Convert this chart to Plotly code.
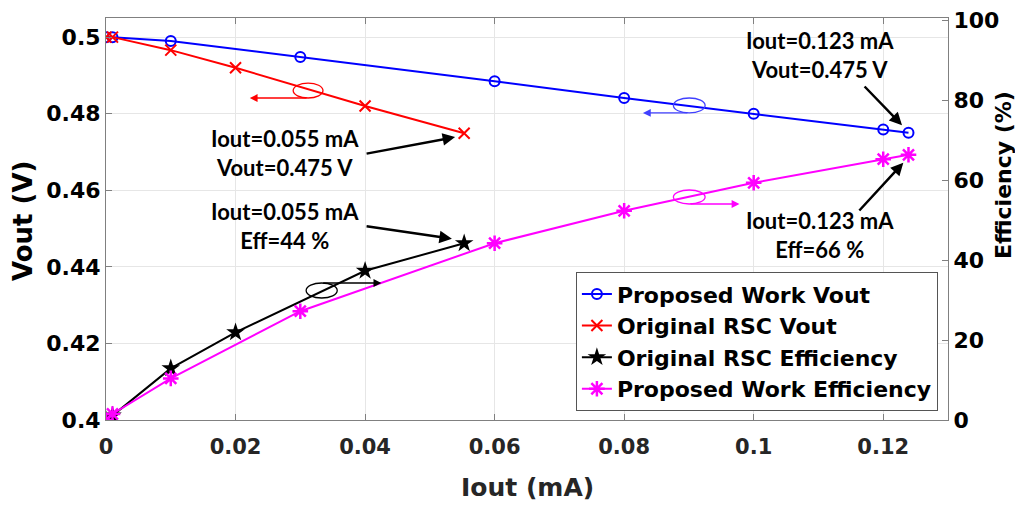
import plotly.graph_objects as go

# ---- data ----
iout_prop = [0, 0.001, 0.01, 0.03, 0.06, 0.08, 0.10, 0.12, 0.1239]
vout_prop = [0.500, 0.500, 0.499, 0.4948, 0.4885, 0.4841, 0.4800, 0.4759, 0.4750]
eff_prop = [0.0, 1.5, 10.4, 27.2, 44.2, 52.3, 59.3, 65.2, 66.3]

iout_orig = [0, 0.001, 0.01, 0.02, 0.04, 0.0553]
vout_orig = [0.500, 0.500, 0.4966, 0.4920, 0.4820, 0.4749]
eff_orig = [0.0, 1.1, 12.9, 21.9, 37.3, 44.2]

names = ["Proposed Work Vout", "Original RSC Vout",
         "Original RSC Efficiency", "Proposed Work Efficiency"]

x_ticks = [0, 0.02, 0.04, 0.06, 0.08, 0.1, 0.12]
x_tick_text = ["0", "0.02", "0.04", "0.06", "0.08", "0.1", "0.12"]
y_ticks = [0.40, 0.42, 0.44, 0.46, 0.48, 0.50]
y_tick_text = ["0.4", "0.42", "0.44", "0.46", "0.48", "0.5"]
y2_ticks = [0, 20, 40, 60, 80, 100]

TXT = "Lato"
TICK = "DejaVu Sans"

OFF = 8  # page body margin
W, H = 1023 - OFF, 507 - OFF
ML, MR, MT, MB = 106 - OFF, 75, 18 - OFF, 87

fig = go.Figure()
fig.add_trace(go.Scatter(x=iout_prop, y=vout_prop, name=names[0], mode="lines+markers",
                         line=dict(color="#0000ff", width=2),
                         marker=dict(symbol="circle-open", size=10, color="#0000ff",
                                     line=dict(width=2))))
fig.add_trace(go.Scatter(x=iout_orig, y=vout_orig, name=names[1], mode="lines+markers",
                         line=dict(color="#ff0000", width=2),
                         marker=dict(symbol="x-thin-open", size=11, color="#ff0000",
                                     line=dict(width=2, color="#ff0000"))))
fig.add_trace(go.Scatter(x=iout_orig, y=eff_orig, name=names[2], mode="lines+markers",
                         yaxis="y2",
                         line=dict(color="#000000", width=2),
                         marker=dict(symbol="star", size=14, color="#000000")))
fig.add_trace(go.Scatter(x=iout_prop, y=eff_prop, name=names[3], mode="lines+markers",
                         yaxis="y2",
                         line=dict(color="#ff00ff", width=2),
                         marker=dict(symbol="asterisk-open", size=13, color="#ff00ff",
                                     line=dict(width=2.5, color="#ff00ff"))))

annotations = []

def txt(x, y, t, yref="y"):
    annotations.append(dict(x=x, y=y, xref="x", yref=yref, text=t, showarrow=False,
                            font=dict(family=TXT, size=22, color="black", weight="bold"),
                            align="center"))

txt(0.1103, 0.4953, "Iout=0.123 mA<br>Vout=0.475 V")
txt(0.0276, 0.4697, "Iout=0.055 mA<br>Vout=0.475 V")
txt(0.0276, 48.5, "Iout=0.055 mA<br>Eff=44 %", yref="y2")
txt(0.1103, 46.2, "Iout=0.123 mA<br>Eff=66 %", yref="y2")

def arrow(x, y, ax, ay, color="black", yref="y", width=2.5, head=2, size=1.0):
    annotations.append(dict(x=x, y=y, ax=ax, ay=ay, xref="x", yref=yref,
                            axref="x", ayref=yref, text="", showarrow=True,
                            arrowhead=head, arrowsize=size, arrowwidth=width,
                            arrowcolor=color))

arrow(0.1229, 0.4770, 0.1169, 0.4875)
arrow(0.0539, 0.4739, 0.0400, 0.4695)
arrow(0.0534, 45.3, 0.0400, 48.5, yref="y2")
arrow(0.1231, 64.3, 0.1161, 52.0, yref="y2")
arrow(0.0222, 0.4841, 0.0312, 0.4841, color="#ff0000", width=1.3, size=1.2)
arrow(0.0829, 0.4802, 0.0900, 0.4802, color="#4040ff", width=1.3, size=1.2)
arrow(0.0978, 54.0, 0.0900, 54.0, color="#ff00ff", yref="y2", width=1.3, size=1.2)
arrow(0.0425, 34.25, 0.0333, 34.25, color="#000000", yref="y2", width=1.3, size=1.2)

# axis titles (placed as paper annotations; coordinates are screen pixels)
pw, ph = W - ML - MR, H - MT - MB
def px2paper(px, py):
    return (px - OFF - ML) / pw, (H - MB - (py - OFF)) / ph

tx, ty = px2paper(23, 221)
annotations.append(dict(x=tx, y=ty, xref="paper", yref="paper", text="Vout (V)",
                        showarrow=False, textangle=-90, xanchor="center", yanchor="middle",
                        font=dict(family=TICK, size=26, color="black", weight="bold")))
tx, ty = px2paper(1003, 175)
annotations.append(dict(x=tx, y=ty, xref="paper", yref="paper", text="Efficiency (%)",
                        showarrow=False, textangle=-90, xanchor="center", yanchor="middle",
                        font=dict(family=TICK, size=22, color="black", weight="bold")))
tx, ty = px2paper(527, 487)
annotations.append(dict(x=tx, y=ty, xref="paper", yref="paper", text="Iout (mA)",
                        showarrow=False, xanchor="center", yanchor="middle",
                        font=dict(family=TICK, size=25, color="#262626", weight="bold")))

shapes = [
    dict(type="circle", xref="x", yref="y", x0=0.0289, x1=0.0335, y0=0.4841, y1=0.4880,
         line=dict(color="#ff0000", width=1.3)),
    dict(type="circle", xref="x", yref="y", x0=0.0876, x1=0.0925, y0=0.4802, y1=0.4841,
         line=dict(color="#4040ff", width=1.3)),
    dict(type="circle", xref="x", yref="y2", x0=0.0876, x1=0.0925, y0=54.0, y1=57.5,
         line=dict(color="#ff00ff", width=1.3)),
    dict(type="circle", xref="x", yref="y2", x0=0.0309, x1=0.0357, y0=30.5, y1=34.25,
         line=dict(color="#000000", width=1.3)),
]

fig.update_layout(
    width=W, height=H,
    margin=dict(l=ML, r=MR, t=MT, b=MB, autoexpand=False),
    paper_bgcolor="white", plot_bgcolor="white",
    showlegend=True,
    legend=dict(x=0.988, y=0.022, xanchor="right", yanchor="bottom",
                bgcolor="white", bordercolor="#555555", borderwidth=1,
                font=dict(family=TICK, size=22, color="black", weight="bold"),
                tracegroupgap=0, itemwidth=30),
    xaxis=dict(range=[0, 0.13], tickvals=x_ticks, ticktext=x_tick_text, automargin=False,
               showgrid=True, gridcolor="#e6e6e6", gridwidth=1, zeroline=False,
               showline=True, linecolor="#808080", linewidth=1, mirror="ticks",
               ticks="inside", ticklen=6, tickcolor="#808080", ticklabelstandoff=8,
               ticklabeloverflow="allow",
               tickfont=dict(family=TICK, size=21, color="#262626", weight="bold")),
    yaxis=dict(range=[0.4, 0.505], tickvals=y_ticks, ticktext=y_tick_text, automargin=False,
               showgrid=True, gridcolor="#e6e6e6", gridwidth=1, zeroline=False,
               showline=True, linecolor="#808080", linewidth=1,
               ticks="inside", ticklen=6, tickcolor="#808080", ticklabeloverflow="allow",
               tickfont=dict(family=TICK, size=22, color="black", weight="bold")),
    yaxis2=dict(range=[0, 100.5], tickvals=y2_ticks, overlaying="y", side="right",
                automargin=False, showgrid=False, zeroline=False,
                showline=True, linecolor="#808080", linewidth=1,
                ticks="inside", ticklen=6, tickcolor="#808080", ticklabeloverflow="allow",
                tickfont=dict(family=TICK, size=22, color="black", weight="bold")),
    annotations=annotations,
    shapes=shapes,
)

fig.write_html("out.html")
